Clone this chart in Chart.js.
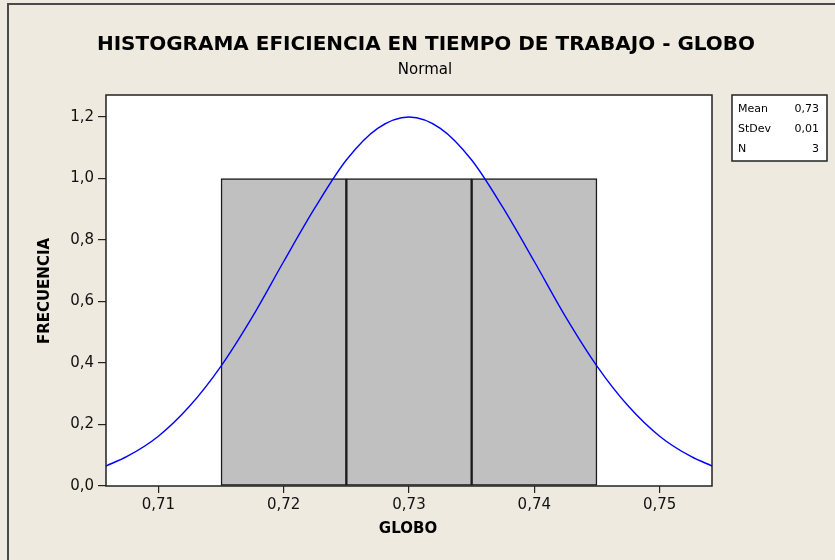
<!DOCTYPE html>
<html>
<head>
<meta charset="utf-8">
<title>Histograma Globo</title>
<script src="https://cdn.jsdelivr.net/npm/chart.js@4.4.1/dist/chart.umd.min.js"></script>
<style>
  html, body { margin: 0; padding: 0; background: #EEEAE0; }
  #wrap { width: 835px; height: 560px; }
</style>
</head>
<body>
<div id="wrap"><canvas id="hist" width="835" height="560"></canvas></div>
<script>
// histogram bins (centres) and counts
var binCenters = [0.72, 0.73, 0.74];
var binCounts = [1, 1, 1];

// fitted normal curve, read along the x range
var curveX = [0.7058, 0.7075, 0.71, 0.7125, 0.715, 0.7175, 0.72, 0.7225, 0.725, 0.7275, 0.73,
              0.7325, 0.735, 0.7375, 0.74, 0.7425, 0.745, 0.7475, 0.75, 0.7525, 0.7542];
var curveY = [0.065, 0.096, 0.162, 0.26, 0.39, 0.55, 0.73, 0.905, 1.06, 1.163, 1.2,
              1.163, 1.06, 0.905, 0.73, 0.55, 0.39, 0.26, 0.162, 0.096, 0.065];

var xTicks = [0.71, 0.72, 0.73, 0.74, 0.75];
var yTicks = [0, 0.2, 0.4, 0.6, 0.8, 1.0, 1.2];

var statNames = ["Mean", "StDev", "N"];
var statValues = ["0,73", "0,01", "3"];

var FONT = "'DejaVu Sans', sans-serif";

function comma(v, d) { return v.toFixed(d).replace(".", ","); }

// background, outer frame, titles, plot border and stats box
var decor = {
  id: "decor",
  beforeDraw: function (chart) {
    var c = chart.ctx;
    c.save();
    c.fillStyle = "#EEEAE0";
    c.fillRect(0, 0, chart.width, chart.height);
    c.strokeStyle = "#4a4a4a";
    c.lineWidth = 2;
    c.beginPath();
    c.moveTo(8, 560); c.lineTo(8, 4); c.lineTo(835, 4);
    c.stroke();
    var a = chart.chartArea;
    c.fillStyle = "#ffffff";
    c.fillRect(a.left, a.top, a.right - a.left, a.bottom - a.top);
    c.restore();
  },
  afterDraw: function (chart) {
    var c = chart.ctx, a = chart.chartArea;
    c.save();
    c.strokeStyle = "#222";
    c.lineWidth = 1.5;
    c.strokeRect(a.left, a.top, a.right - a.left, a.bottom - a.top);

    c.fillStyle = "#000";
    c.textAlign = "center";
    c.textBaseline = "middle";
    c.font = "bold 20px " + FONT;
    c.fillText("HISTOGRAMA EFICIENCIA EN TIEMPO DE TRABAJO - GLOBO", 426, 45);
    c.font = "15px " + FONT;
    c.fillText("Normal", 425, 70);

    // axis titles
    c.font = "bold 15px " + FONT;
    c.fillText("GLOBO", 408, 529);
    c.save();
    c.translate(45, 291);
    c.rotate(-Math.PI / 2);
    c.fillText("FRECUENCIA", 0, 0);
    c.restore();

    // stats box
    c.fillStyle = "#fff";
    c.fillRect(732, 95, 95, 66);
    c.strokeRect(732, 95, 95, 66);
    c.fillStyle = "#000";
    c.font = "11px " + FONT;
    for (var i = 0; i < statNames.length; i++) {
      var y = 109 + i * 20;
      c.textAlign = "left";
      c.fillText(statNames[i], 738, y);
      c.textAlign = "right";
      c.fillText(statValues[i], 819, y);
    }
    c.restore();
  }
};

new Chart(document.getElementById("hist"), {
  data: {
    datasets: [
      {
        type: "line",
        data: curveX.map(function (x, i) { return { x: x, y: curveY[i] }; }),
        borderColor: "#0000ff",
        borderWidth: 1.4,
        pointRadius: 0,
        fill: false,
        tension: 0.4,
        cubicInterpolationMode: "monotone",
        order: 0
      },
      {
        type: "bar",
        data: binCenters.map(function (x, i) { return { x: x, y: binCounts[i] }; }),
        backgroundColor: "#C0C0C0",
        borderColor: "#1a1a1a",
        borderWidth: 1.5,
        borderSkipped: false,
        barPercentage: 1,
        categoryPercentage: 1,
        order: 1
      }
    ]
  },
  plugins: [decor],
  options: {
    responsive: false,
    animation: false,
    layout: { padding: { top: 95, right: 123, left: 0, bottom: 0 } },
    plugins: { legend: { display: false }, tooltip: { enabled: false }, title: { display: false } },
    scales: {
      x: {
        type: "linear",
        offset: false,
        min: 0.70582,
        max: 0.75418,
        afterFit: function (s) { s.height = 74; },
        afterBuildTicks: function (s) { s.ticks = xTicks.map(function (v) { return { value: v }; }); },
        grid: { offset: false, drawOnChartArea: false, drawTicks: true, tickLength: 7, color: "#222", lineWidth: 1.2 },
        border: { display: false },
        ticks: {
          color: "#111",
          padding: 3,
          font: { family: FONT, size: 15 },
          callback: function (v) { return comma(v, 2); }
        }
      },
      y: {
        type: "linear",
        min: 0,
        max: 1.2715,
        afterFit: function (s) { s.width = 106; },
        afterBuildTicks: function (s) { s.ticks = yTicks.map(function (v) { return { value: v }; }); },
        grid: { drawOnChartArea: false, drawTicks: true, tickLength: 8, color: "#222", lineWidth: 1.2 },
        border: { display: false },
        ticks: {
          color: "#111",
          padding: 4,
          font: { family: FONT, size: 15 },
          callback: function (v) { return comma(v, 1); }
        }
      }
    }
  }
});
</script>
</body>
</html>
